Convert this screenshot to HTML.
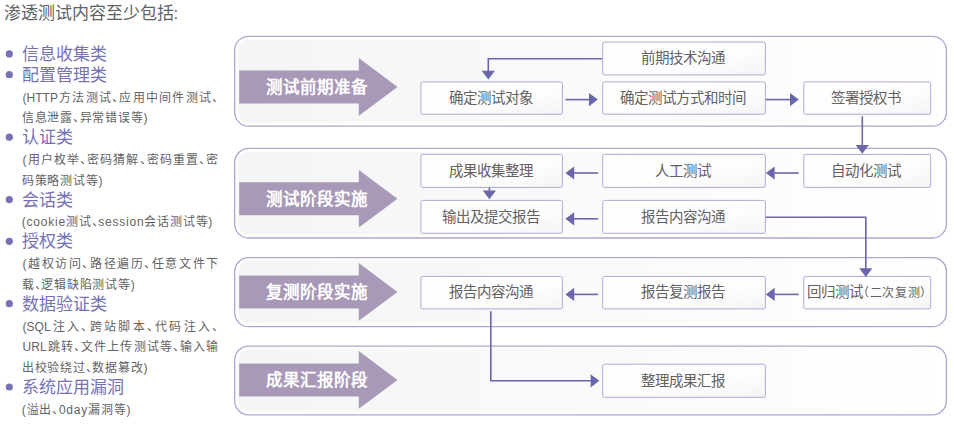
<!DOCTYPE html>
<html lang="zh-CN"><head><meta charset="utf-8"><title>渗透测试流程</title>
<style>
html,body{margin:0;padding:0;background:#fff}
body{width:954px;height:428px;position:relative;overflow:hidden;font-family:"Liberation Sans",sans-serif}
svg{position:absolute;left:0;top:0;display:block}
.t{position:absolute;margin:0;padding:0;white-space:nowrap;font-feature-settings:"halt"}
</style></head><body>
<svg xmlns="http://www.w3.org/2000/svg" width="954" height="428" viewBox="0 0 954 428">
<defs>
<linearGradient id="pg" x1="0" y1="0" x2="1" y2="0"><stop offset="0" stop-color="#f5f5f5"/><stop offset="0.55" stop-color="#fafafa"/><stop offset="1" stop-color="#ffffff"/></linearGradient>
<linearGradient id="bg" x1="0" y1="0" x2="1" y2="1"><stop offset="0" stop-color="#ffffff"/><stop offset="0.6" stop-color="#fdfdfd"/><stop offset="1" stop-color="#f4f4f6"/></linearGradient>
</defs>
<rect x="238.1" y="39.8" width="704.9" height="82.9" rx="11" fill="url(#pg)"/>
<rect x="234.7" y="36.3" width="711.7" height="89.9" rx="14" fill="none" stroke="#aaa7d2" stroke-width="1.3"/>
<rect x="238.1" y="151.9" width="704.9" height="82.6" rx="11" fill="url(#pg)"/>
<rect x="234.7" y="148.4" width="711.7" height="89.6" rx="14" fill="none" stroke="#aaa7d2" stroke-width="1.3"/>
<rect x="238.1" y="261.2" width="704.9" height="62.0" rx="11" fill="url(#pg)"/>
<rect x="234.7" y="257.7" width="711.7" height="69.0" rx="14" fill="none" stroke="#aaa7d2" stroke-width="1.3"/>
<rect x="238.1" y="349.6" width="704.9" height="61.8" rx="11" fill="url(#pg)"/>
<rect x="234.7" y="346.1" width="711.7" height="68.8" rx="14" fill="none" stroke="#aaa7d2" stroke-width="1.3"/>
<path d="M239.2 70.4H358.8V58.1L397.5 86.9L358.8 115.7V103.4H239.2Z" fill="#a899b8"/>
<path d="M239.2 182.3H358.8V170.0L397.5 198.8L358.8 227.6V215.3H239.2Z" fill="#a899b8"/>
<path d="M239.2 275.4H358.8V263.1L397.5 291.9L358.8 320.7V308.4H239.2Z" fill="#a899b8"/>
<path d="M239.2 363.4H358.8V351.1L397.5 379.9L358.8 408.7V396.4H239.2Z" fill="#a899b8"/>
<rect x="602.7" y="42.1" width="162.7" height="32.8" rx="1.8" fill="url(#bg)" stroke="#adaad6" stroke-width="1"/>
<rect x="420.9" y="81.9" width="141.5" height="32.3" rx="1.8" fill="url(#bg)" stroke="#adaad6" stroke-width="1"/>
<rect x="602.7" y="81.9" width="162.7" height="32.3" rx="1.8" fill="url(#bg)" stroke="#adaad6" stroke-width="1"/>
<rect x="803.8" y="81.9" width="126.9" height="32.3" rx="1.8" fill="url(#bg)" stroke="#adaad6" stroke-width="1"/>
<rect x="420.9" y="154.4" width="141.5" height="33.0" rx="1.8" fill="url(#bg)" stroke="#adaad6" stroke-width="1"/>
<rect x="602.7" y="154.4" width="162.7" height="33.0" rx="1.8" fill="url(#bg)" stroke="#adaad6" stroke-width="1"/>
<rect x="803.8" y="154.4" width="126.9" height="33.0" rx="1.8" fill="url(#bg)" stroke="#adaad6" stroke-width="1"/>
<rect x="420.9" y="200.4" width="141.5" height="32.9" rx="1.8" fill="url(#bg)" stroke="#adaad6" stroke-width="1"/>
<rect x="602.7" y="200.4" width="162.7" height="32.9" rx="1.8" fill="url(#bg)" stroke="#adaad6" stroke-width="1"/>
<rect x="420.9" y="276.4" width="141.5" height="32.5" rx="1.8" fill="url(#bg)" stroke="#adaad6" stroke-width="1"/>
<rect x="602.7" y="276.4" width="162.7" height="32.5" rx="1.8" fill="url(#bg)" stroke="#adaad6" stroke-width="1"/>
<rect x="803.8" y="276.4" width="126.9" height="32.5" rx="1.8" fill="url(#bg)" stroke="#adaad6" stroke-width="1"/>
<rect x="602.7" y="364.2" width="162.7" height="33.1" rx="1.8" fill="url(#bg)" stroke="#adaad6" stroke-width="1"/>
<path d="M602 58.7H488.3V71.5" fill="none" stroke="#6966a9" stroke-width="1.6"/>
<path d="M488.3 79.6L481.7 70.8H494.9Z" fill="#6966a9"/>
<path d="M565.4 99.6H590" fill="none" stroke="#6966a9" stroke-width="1.6"/>
<path d="M597.8 99.6L589.0 93.0V106.2Z" fill="#6966a9"/>
<path d="M765.7 99.6H790.5" fill="none" stroke="#6966a9" stroke-width="1.6"/>
<path d="M798.8 99.6L790.0 93.0V106.2Z" fill="#6966a9"/>
<path d="M862.3 116.3V145.5" fill="none" stroke="#6966a9" stroke-width="1.6"/>
<path d="M862.3 153.7L855.7 144.9H868.9Z" fill="#6966a9"/>
<path d="M798.6 173H774.5" fill="none" stroke="#6966a9" stroke-width="1.6"/>
<path d="M765.9 173.0L774.7 166.4V179.6Z" fill="#6966a9"/>
<path d="M598.2 173H574" fill="none" stroke="#6966a9" stroke-width="1.6"/>
<path d="M565.4 173.0L574.2 166.4V179.6Z" fill="#6966a9"/>
<path d="M598.2 218.8H574" fill="none" stroke="#6966a9" stroke-width="1.6"/>
<path d="M565.4 218.8L574.2 212.2V225.4Z" fill="#6966a9"/>
<path d="M489.4 187.5V191" fill="none" stroke="#6966a9" stroke-width="1.6"/>
<path d="M489.4 199.3L482.8 190.5H496.0Z" fill="#6966a9"/>
<path d="M765.7 217.3H865.8V269.5" fill="none" stroke="#6966a9" stroke-width="1.6"/>
<path d="M865.8 277.0L859.2 268.2H872.4Z" fill="#6966a9"/>
<path d="M798.7 294.4H774.5" fill="none" stroke="#6966a9" stroke-width="1.6"/>
<path d="M765.9 294.4L774.7 287.8V301.0Z" fill="#6966a9"/>
<path d="M598.2 294.4H574" fill="none" stroke="#6966a9" stroke-width="1.6"/>
<path d="M565.4 294.4L574.2 287.8V301.0Z" fill="#6966a9"/>
<path d="M490.8 311.2V380.8H591" fill="none" stroke="#6966a9" stroke-width="1.6"/>
<path d="M599.4 380.8L590.6 374.2V387.4Z" fill="#6966a9"/>
<circle cx="9.3" cy="53.9" r="3.6" fill="#7572b4"/>
<circle cx="9.3" cy="74.7" r="3.6" fill="#7572b4"/>
<circle cx="9.3" cy="137.2" r="3.6" fill="#7572b4"/>
<circle cx="9.3" cy="199.6" r="3.6" fill="#7572b4"/>
<circle cx="9.3" cy="241.3" r="3.6" fill="#7572b4"/>
<circle cx="9.3" cy="303.7" r="3.6" fill="#7572b4"/>
<circle cx="9.3" cy="387.0" r="3.6" fill="#7572b4"/>
</svg>
<div class="t" style="top:76.78px;font-size:16.50px;line-height:21px;color:#fff;font-weight:700;left:242.40px;width:150.00px;text-align:center;">测试前期准备</div>
<div class="t" style="top:188.68px;font-size:16.50px;line-height:21px;color:#fff;font-weight:700;left:242.40px;width:150.00px;text-align:center;">测试阶段实施</div>
<div class="t" style="top:281.78px;font-size:16.50px;line-height:21px;color:#fff;font-weight:700;left:242.40px;width:150.00px;text-align:center;">复测阶段实施</div>
<div class="t" style="top:369.78px;font-size:16.50px;line-height:21px;color:#fff;font-weight:700;left:242.40px;width:150.00px;text-align:center;">成果汇报阶段</div>
<div class="t" style="top:49.28px;font-size:14.50px;line-height:19px;color:#636161;font-weight:400;left:601.80px;width:162.70px;text-align:center;">前期技术沟通</div>
<div class="t" style="top:88.83px;font-size:14.50px;line-height:19px;color:#636161;font-weight:400;left:420.00px;width:141.50px;text-align:center;">确定测试对象</div>
<div class="t" style="top:88.83px;font-size:14.50px;line-height:19px;color:#636161;font-weight:400;left:601.80px;width:162.70px;text-align:center;">确定测试方式和时间</div>
<div class="t" style="top:88.83px;font-size:14.50px;line-height:19px;color:#636161;font-weight:400;left:802.90px;width:126.90px;text-align:center;">签署授权书</div>
<div class="t" style="top:161.68px;font-size:14.50px;line-height:19px;color:#636161;font-weight:400;left:420.00px;width:141.50px;text-align:center;">成果收集整理</div>
<div class="t" style="top:161.68px;font-size:14.50px;line-height:19px;color:#636161;font-weight:400;left:601.80px;width:162.70px;text-align:center;">人工测试</div>
<div class="t" style="top:161.68px;font-size:14.50px;line-height:19px;color:#636161;font-weight:400;left:802.90px;width:126.90px;text-align:center;">自动化测试</div>
<div class="t" style="top:207.63px;font-size:14.50px;line-height:19px;color:#636161;font-weight:400;left:420.00px;width:141.50px;text-align:center;">输出及提交报告</div>
<div class="t" style="top:207.63px;font-size:14.50px;line-height:19px;color:#636161;font-weight:400;left:601.80px;width:162.70px;text-align:center;">报告内容沟通</div>
<div class="t" style="top:283.43px;font-size:14.50px;line-height:19px;color:#636161;font-weight:400;left:420.00px;width:141.50px;text-align:center;">报告内容沟通</div>
<div class="t" style="top:283.43px;font-size:14.50px;line-height:19px;color:#636161;font-weight:400;left:601.80px;width:162.70px;text-align:center;">报告复测报告</div>
<div class="t" style="left:807.0px;top:283.43px;font-size:14.5px;line-height:19px;color:#636161">回归测试<span style="font-size:12px;letter-spacing:0.7px;font-feature-settings:'halt'">（二次复测）</span></div>
<div class="t" style="top:371.53px;font-size:14.50px;line-height:19px;color:#636161;font-weight:400;left:601.80px;width:162.70px;text-align:center;">整理成果汇报</div>
<div class="t" style="top:3.01px;font-size:17.00px;line-height:22px;color:#626262;font-weight:400;left:3.60px;">渗透测试内容至少包括:</div>
<div class="t" style="top:43.76px;font-size:17.00px;line-height:22px;color:#7572b4;font-weight:400;left:22.10px;">信息收集类</div>
<div class="t" style="top:64.58px;font-size:17.00px;line-height:22px;color:#7572b4;font-weight:400;left:22.10px;">配置管理类</div>
<div class="t" style="top:89.53px;font-size:12.00px;line-height:16px;color:#636363;font-weight:400;left:22.60px;width:195.60px;text-align:justify;text-align-last:justify;">(HTTP方法测试、应用中间件测试、</div>
<div class="t" style="top:110.35px;font-size:12.00px;line-height:16px;color:#636363;font-weight:400;letter-spacing:0.78px;left:21.80px;">信息泄露、异常错误等)</div>
<div class="t" style="top:127.04px;font-size:17.00px;line-height:22px;color:#7572b4;font-weight:400;left:22.10px;">认证类</div>
<div class="t" style="top:151.99px;font-size:12.00px;line-height:16px;color:#636363;font-weight:400;left:22.60px;width:195.60px;text-align:justify;text-align-last:justify;">(用户枚举、密码猜解、密码重置、密</div>
<div class="t" style="top:172.81px;font-size:12.00px;line-height:16px;color:#636363;font-weight:400;letter-spacing:0.78px;left:21.80px;">码策略测试等)</div>
<div class="t" style="top:189.50px;font-size:17.00px;line-height:22px;color:#7572b4;font-weight:400;left:22.10px;">会话类</div>
<div class="t" style="top:214.45px;font-size:12.00px;line-height:16px;color:#636363;font-weight:400;letter-spacing:0.78px;left:21.80px;">(cookie测试、session会话测试等)</div>
<div class="t" style="top:231.14px;font-size:17.00px;line-height:22px;color:#7572b4;font-weight:400;left:22.10px;">授权类</div>
<div class="t" style="top:256.09px;font-size:12.00px;line-height:16px;color:#636363;font-weight:400;left:22.60px;width:195.60px;text-align:justify;text-align-last:justify;">(越权访问、路径遍历、任意文件下</div>
<div class="t" style="top:276.91px;font-size:12.00px;line-height:16px;color:#636363;font-weight:400;letter-spacing:0.78px;left:21.80px;">载、逻辑缺陷测试等)</div>
<div class="t" style="top:293.60px;font-size:17.00px;line-height:22px;color:#7572b4;font-weight:400;left:22.10px;">数据验证类</div>
<div class="t" style="top:318.55px;font-size:12.00px;line-height:16px;color:#636363;font-weight:400;left:22.60px;width:195.60px;text-align:justify;text-align-last:justify;">(SQL注入、跨站脚本、代码注入、</div>
<div class="t" style="top:339.37px;font-size:12.00px;line-height:16px;color:#636363;font-weight:400;left:22.60px;width:195.60px;text-align:justify;text-align-last:justify;">URL跳转、文件上传测试等、输入输</div>
<div class="t" style="top:360.19px;font-size:12.00px;line-height:16px;color:#636363;font-weight:400;letter-spacing:0.78px;left:21.80px;">出校验绕过、数据篡改)</div>
<div class="t" style="top:376.88px;font-size:17.00px;line-height:22px;color:#7572b4;font-weight:400;left:22.10px;">系统应用漏洞</div>
<div class="t" style="top:401.83px;font-size:12.00px;line-height:16px;color:#636363;font-weight:400;letter-spacing:0.78px;left:21.80px;">(溢出、0day漏洞等)</div>
</body></html>
